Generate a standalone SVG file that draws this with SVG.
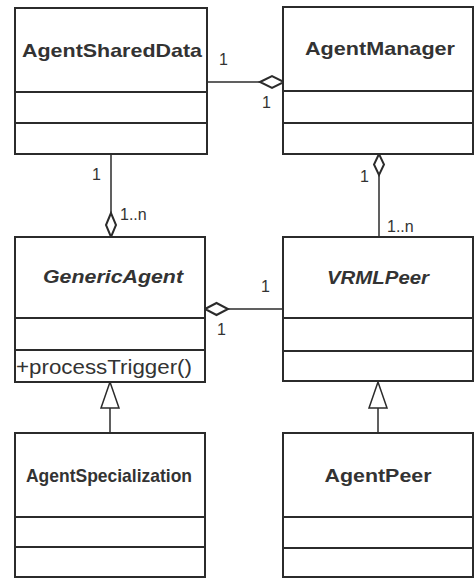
<svg xmlns="http://www.w3.org/2000/svg" width="475" height="578" viewBox="0 0 475 578">
<style>
.box{fill:#fff;stroke:#2b2b2b;stroke-width:2}
.div{stroke:#2b2b2b;stroke-width:2}
.name{font-family:"Liberation Sans",Arial,sans-serif;font-weight:bold;font-size:19px;fill:#333;text-anchor:middle}
.it{font-style:italic}
.op{font-family:"Liberation Sans",Arial,sans-serif;font-size:20px;fill:#333}
.lbl{font-family:"Liberation Sans",Arial,sans-serif;font-size:16px;fill:#333}
.ln{stroke:#2b2b2b;stroke-width:1.5;fill:none}
.dia{fill:#fff;stroke:#2b2b2b;stroke-width:2}
.tri{fill:#fff;stroke:#2b2b2b;stroke-width:1.5}
</style>
<rect width="475" height="578" fill="#fff"/>
<g id="connectors">
<line class="ln" x1="207" y1="82" x2="260" y2="82"/>
<polygon class="dia" points="260,82 272,76 284,82 272,88"/>
<line class="ln" x1="111" y1="154" x2="111" y2="213"/>
<polygon class="dia" points="111,213 106,225 111,237 116,225"/>
<line class="ln" x1="379" y1="175" x2="379" y2="237"/>
<polygon class="dia" points="379,154 374,164.5 379,175 384,164.5"/>
<line class="ln" x1="228" y1="309" x2="283" y2="309"/>
<polygon class="dia" points="205,309 216.5,303 228,309 216.5,315"/>
<line class="ln" x1="110" y1="408" x2="110" y2="433"/>
<polygon class="tri" points="110,382 101,408 119,408"/>
<line class="ln" x1="378" y1="408" x2="378" y2="433"/>
<polygon class="tri" points="378,382 369,408 387,408"/>
<text class="lbl" x="219" y="65">1</text>
<text class="lbl" x="262" y="108">1</text>
<text class="lbl" x="92" y="180">1</text>
<text class="lbl" x="120" y="220">1..n</text>
<text class="lbl" x="360" y="182">1</text>
<text class="lbl" x="387" y="232">1..n</text>
<text class="lbl" x="261" y="292">1</text>
<text class="lbl" x="217" y="335">1</text>
</g>
<g id="AgentSharedData">
<rect class="box" x="15" y="8" width="192" height="146"/>
<line class="div" x1="15" y1="92" x2="207" y2="92"/>
<line class="div" x1="15" y1="123" x2="207" y2="123"/>
<text class="name" x="112" y="57" textLength="180" lengthAdjust="spacingAndGlyphs">AgentSharedData</text>
</g>
<g id="AgentManager">
<rect class="box" x="283" y="7" width="190" height="147"/>
<line class="div" x1="283" y1="91" x2="473" y2="91"/>
<line class="div" x1="283" y1="123" x2="473" y2="123"/>
<text class="name" x="380" y="55" textLength="150" lengthAdjust="spacingAndGlyphs">AgentManager</text>
</g>
<g id="GenericAgent">
<rect class="box" x="15" y="237" width="190" height="145"/>
<line class="div" x1="15" y1="318" x2="205" y2="318"/>
<line class="div" x1="15" y1="350" x2="205" y2="350"/>
<text class="name it" x="113" y="283" textLength="140" lengthAdjust="spacingAndGlyphs">GenericAgent</text>
<text class="op" x="16" y="374" textLength="176" lengthAdjust="spacingAndGlyphs">+processTrigger()</text>
</g>
<g id="VRMLPeer">
<rect class="box" x="283" y="237" width="190" height="144"/>
<line class="div" x1="283" y1="318" x2="473" y2="318"/>
<line class="div" x1="283" y1="351" x2="473" y2="351"/>
<text class="name it" x="378" y="284" textLength="102" lengthAdjust="spacingAndGlyphs">VRMLPeer</text>
</g>
<g id="AgentSpecialization">
<rect class="box" x="15" y="433" width="190" height="144"/>
<line class="div" x1="15" y1="517" x2="205" y2="517"/>
<line class="div" x1="15" y1="547" x2="205" y2="547"/>
<text class="name" x="109" y="482" font-size="18" textLength="166" lengthAdjust="spacingAndGlyphs">AgentSpecialization</text>
</g>
<g id="AgentPeer">
<rect class="box" x="283" y="433" width="190" height="144"/>
<line class="div" x1="283" y1="517" x2="473" y2="517"/>
<line class="div" x1="283" y1="548" x2="473" y2="548"/>
<text class="name" x="378" y="482" textLength="107" lengthAdjust="spacingAndGlyphs">AgentPeer</text>
</g>
</svg>
